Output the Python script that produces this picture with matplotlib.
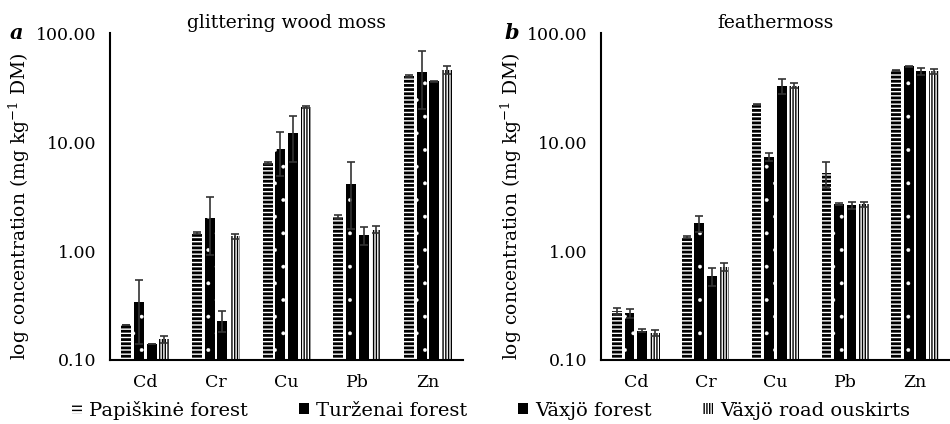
import matplotlib
matplotlib.use('Agg')
import matplotlib.pyplot as plt
import numpy as np
from matplotlib.ticker import FixedLocator, FixedFormatter, NullLocator
from matplotlib.patches import Patch

#dados
metais = ['Cd', 'Cr', 'Cu', 'Pb', 'Zn']
locais = ['Papiškinė forest', 'Turženai forest', 'Växjö forest', 'Växjö road ouskirts']

#glittering wood moss
a_papiskine = [0.21, 1.45, 6.4, 2.05, 40.5]
a_turzenai = [0.34, 2.02, 8.6, 4.1, 44.0]
a_vaxjo = [0.14, 0.23, 12.0, 1.40, 36.0]
a_estrada = [0.155, 1.36, 21.0, 1.57, 46.0]
a_err_papiskine = [0.0, 0.03, 0.1, 0.1, 0.6]
a_err_turzenai = [0.2, 1.1, 3.7, 2.5, 24.0]
a_err_vaxjo = [0.0, 0.05, 5.4, 0.27, 0.5]
a_err_estrada = [0.012, 0.08, 0.3, 0.12, 4.0]

#feathermoss
b_papiskine = [0.28, 1.34, 22.0, 5.2, 45.5]
b_turzenai = [0.268, 1.80, 7.3, 2.68, 49.5]
b_vaxjo = [0.186, 0.59, 32.7, 2.62, 44.5]
b_estrada = [0.178, 0.71, 33.0, 2.68, 44.5]
b_err_papiskine = [0.02, 0.03, 0.3, 1.4, 0.5]
b_err_turzenai = [0.025, 0.3, 0.55, 0.05, 0.5]
b_err_vaxjo = [0.005, 0.11, 5.0, 0.2, 3.0]
b_err_estrada = [0.012, 0.06, 1.6, 0.12, 2.5]

plt.rcParams['font.family'] = ['DejaVu Serif']
plt.rcParams['mathtext.fontset'] = 'dejavuserif'
plt.rcParams['hatch.linewidth'] = 1.0

estilos = [
    dict(facecolor='white', edgecolor='black', hatch='----', linewidth=0),
    dict(facecolor='black', edgecolor='white', hatch='.', linewidth=0),
    dict(facecolor='black', edgecolor='black', linewidth=0),
    dict(facecolor='white', edgecolor='black', hatch='||||||', linewidth=0),
]
espessura_hatch = [2.0, 0.3, 1.0, 1.0]

fig = plt.figure(figsize=(9.5, 4.24), dpi=100)
ax1 = fig.add_axes([0.1158, 0.151, 0.372, 0.771])
ax2 = fig.add_axes([0.6325, 0.151, 0.3675, 0.771])

x = np.arange(len(metais))
largura = 0.14
passo = 0.18


def painel(ax, series, erros, titulo, letra, xletra):
    for i, (vals, errs) in enumerate(zip(series, erros)):
        pos = x + (i - 1.5) * passo
        barras = ax.bar(pos, vals, largura, **estilos[i])
        for b in barras:
            if hasattr(b, 'set_hatch_linewidth'):
                b.set_hatch_linewidth(espessura_hatch[i])
        ax.errorbar(pos, vals, yerr=errs, fmt='none', ecolor='#333333',
                    elinewidth=1.2, capsize=3.2, capthick=1.2)
    ax.set_yscale('log')
    ax.set_ylim(0.1, 100)
    ax.set_xlim(-0.5, 4.5)
    ax.yaxis.set_major_locator(FixedLocator([0.1, 1, 10, 100]))
    ax.yaxis.set_major_formatter(FixedFormatter(['0.10', '1.00', '10.00', '100.00']))
    ax.yaxis.set_minor_locator(NullLocator())
    ax.set_xticks(x)
    ax.set_xticklabels(metais)
    ax.tick_params(axis='both', length=0, labelsize=12.5, pad=10)
    ax.tick_params(axis='y', pad=10)
    for s in ['top', 'right']:
        ax.spines[s].set_visible(False)
    for s in ['left', 'bottom']:
        ax.spines[s].set_linewidth(1.5)
    ax.set_ylabel('log concentration (mg kg$^{\\mathregular{-1}}$ DM)', fontsize=13.5)
    ax.yaxis.set_label_coords(-0.22, 0.47)
    ax.set_title(titulo, fontsize=13.5, pad=4)
    ax.text(xletra, 1.0, letra, transform=ax.transAxes, fontsize=15,
            fontweight='bold', fontstyle='italic', va='center', ha='left')


painel(ax1, [a_papiskine, a_turzenai, a_vaxjo, a_estrada],
       [a_err_papiskine, a_err_turzenai, a_err_vaxjo, a_err_estrada],
       'glittering wood moss', 'a', -0.283)
painel(ax2, [b_papiskine, b_turzenai, b_vaxjo, b_estrada],
       [b_err_papiskine, b_err_turzenai, b_err_vaxjo, b_err_estrada],
       'feathermoss', 'b', -0.275)

handles = []
for i in range(4):
    h = Patch(**estilos[i], label=locais[i])
    if hasattr(h, 'set_hatch_linewidth'):
        h.set_hatch_linewidth(espessura_hatch[i])
    handles.append(h)
fig.legend(handles=handles, loc='center', bbox_to_anchor=(0.517, 0.033), ncol=4,
           frameon=False, fontsize=14, handlelength=0.5, handleheight=0.45,
           handletextpad=0.4, columnspacing=2.6)

fig.savefig('out.png', dpi=100)
